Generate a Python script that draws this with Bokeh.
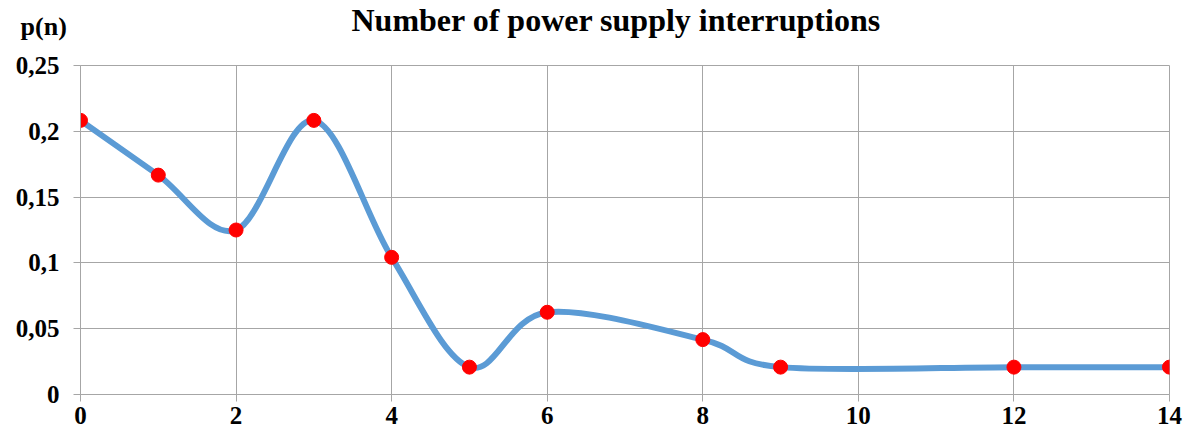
from bokeh.plotting import figure
from bokeh.models import FixedTicker, Label, Range1d
from bokeh.embed import file_html
from bokeh.resources import INLINE

# data
n_values = [0, 1, 2, 3, 4, 5, 6, 8, 9, 12, 14]
p_values = [0.2083, 0.1667, 0.125, 0.2083, 0.1042, 0.0208, 0.0625, 0.0417, 0.0208, 0.0208, 0.0208]
x_ticks = [0, 2, 4, 6, 8, 10, 12, 14]
y_ticks = [0, 0.05, 0.1, 0.15, 0.2, 0.25]
y_tick_labels = ["0", "0,05", "0,1", "0,15", "0,2", "0,25"]
title_text = "Number of power supply interruptions"
y_label_text = "p(n)"

SERIF = "Liberation Serif"

p = figure(width=1184, height=436, output_backend="svg", toolbar_location=None,
           x_range=Range1d(0, 14), y_range=Range1d(0, 0.25),
           min_border_left=80, min_border_right=15, min_border_top=65, min_border_bottom=42)

p.title.text = title_text
p.title.text_font = SERIF
p.title.text_font_size = "32px"
p.title.text_font_style = "bold"
p.title.text_color = "black"
p.title.align = "left"
p.title.offset = 271
p.title.standoff = -3

p.outline_line_color = "#a6a6a6"
p.outline_line_width = 1

for ax in (p.xaxis, p.yaxis):
    ax.axis_line_color = "#a6a6a6"
    ax.major_tick_line_color = "#a6a6a6"
    ax.major_tick_out = 7
    ax.major_tick_in = 0
    ax.minor_tick_line_color = None
    ax.major_label_text_font = SERIF
    ax.major_label_text_font_size = "25px"
    ax.major_label_text_font_style = "bold"
    ax.major_label_text_color = "black"

p.xaxis.ticker = FixedTicker(ticks=x_ticks)
p.yaxis.ticker = FixedTicker(ticks=y_ticks)
p.yaxis.major_label_overrides = {t: l for t, l in zip(y_ticks, y_tick_labels)}
p.xaxis.major_label_standoff = 5
p.yaxis.major_label_standoff = 14

p.xgrid.ticker = FixedTicker(ticks=x_ticks)
p.ygrid.ticker = FixedTicker(ticks=y_ticks)
p.grid.grid_line_color = "#a6a6a6"
p.grid.grid_line_width = 1

# smoothed line (Catmull-Rom style Bezier through the data points)
pts = list(zip(n_values, p_values))
x0s, y0s, x1s, y1s, cx0, cy0, cx1, cy1 = [], [], [], [], [], [], [], []
for i in range(len(pts) - 1):
    pm = pts[max(i - 1, 0)]
    a = pts[i]
    b = pts[i + 1]
    pn = pts[min(i + 2, len(pts) - 1)]
    x0s.append(a[0]); y0s.append(a[1])
    x1s.append(b[0]); y1s.append(b[1])
    cx0.append(a[0] + (b[0] - pm[0]) / 6.0)
    cy0.append(a[1] + (b[1] - pm[1]) / 6.0)
    cx1.append(b[0] - (pn[0] - a[0]) / 6.0)
    cy1.append(b[1] - (pn[1] - a[1]) / 6.0)

p.bezier(x0=x0s, y0=y0s, x1=x1s, y1=y1s, cx0=cx0, cy0=cy0, cx1=cx1, cy1=cy1,
         line_color="#5b9bd5", line_width=6, line_cap="round")

p.scatter(n_values, p_values, size=14, fill_color="#ff0000", line_color="#ff0000", marker="circle")

# placed in a side panel so it is not clipped to the plot frame
lab = Label(x=-0.77, y=0.2793, x_units="data", y_units="data", text=y_label_text,
            text_font=SERIF, text_font_size="26px", text_font_style="bold",
            text_color="black", text_baseline="alphabetic", text_align="left")
p.add_layout(lab, "above")

open("out.html", "w").write(file_html(p, INLINE))
